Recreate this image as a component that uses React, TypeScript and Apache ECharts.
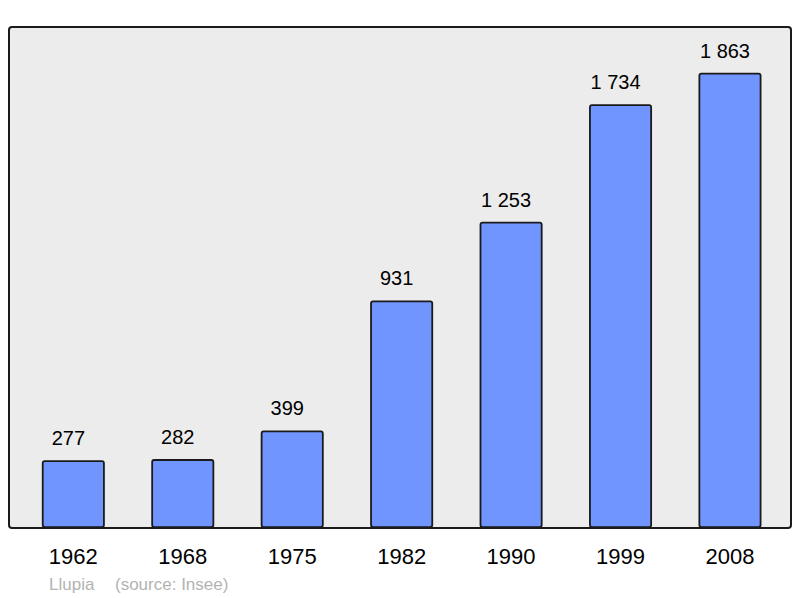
import React, { useEffect, useRef } from "react";
import * as echarts from "echarts";

const years = ["1962", "1968", "1975", "1982", "1990", "1999", "2008"];
const population = [277, 282, 399, 931, 1253, 1734, 1863];
const footerName = "Llupia";
const footerSource = "(source: Insee)";

const fmt = (v: number) => {
  const s = String(v);
  return s.length > 3 ? s.slice(0, s.length - 3) + " " + s.slice(-3) : s;
};

export default function App() {
  const ref = useRef<HTMLDivElement>(null);
  useEffect(() => {
    if (!ref.current) return;
    const chart = echarts.init(ref.current, undefined, { renderer: "svg" });
    const font = "'Liberation Sans', Arial, sans-serif";
    chart.setOption({
      animation: false,
      backgroundColor: "#ffffff",
      grid: { left: 18.6, right: 15.3, top: 27, bottom: 70, containLabel: false },
      xAxis: {
        type: "category",
        data: years,
        axisLine: { show: false },
        axisTick: { show: false },
        axisLabel: { color: "#000", fontSize: 22, fontFamily: font, margin: 17 },
      },
      yAxis: {
        type: "value",
        min: 0,
        max: 2050,
        show: false,
        splitLine: { show: false },
      },
      graphic: [
        {
          type: "rect",
          z: -10,
          shape: { x: 9, y: 27, width: 782, height: 501, r: 3 },
          style: { fill: "#ececec", stroke: "none" },
        },
        {
          type: "rect",
          z: 100,
          shape: { x: 9, y: 27, width: 782, height: 501, r: 3 },
          style: { fill: "none", stroke: "#1a1a1a", lineWidth: 2 },
        },
        {
          type: "text",
          x: 49,
          y: 576,
          style: { text: footerName, fill: "#b3b3b3", fontSize: 17, fontFamily: font },
        },
        {
          type: "text",
          x: 115,
          y: 576,
          style: { text: footerSource, fill: "#b3b3b3", fontSize: 17, fontFamily: font },
        },
      ],
      series: [
        {
          type: "bar",
          data: population,
          barWidth: 63,
          itemStyle: {
            color: "#7095ff",
            borderColor: "#1a1a1a",
            borderWidth: 1.8,
            borderRadius: 2,
          },
          label: {
            show: true,
            position: "top",
            distance: 12,
            offset: [-5, 0],
            color: "#000",
            fontSize: 20,
            fontFamily: font,
            formatter: (p: any) => fmt(p.value),
          },
        },
      ],
    });
    return () => chart.dispose();
  }, []);
  return (
    <div
      ref={ref}
      style={{ position: "fixed", left: 0, top: 0, width: 800, height: 598 }}
    />
  );
}
